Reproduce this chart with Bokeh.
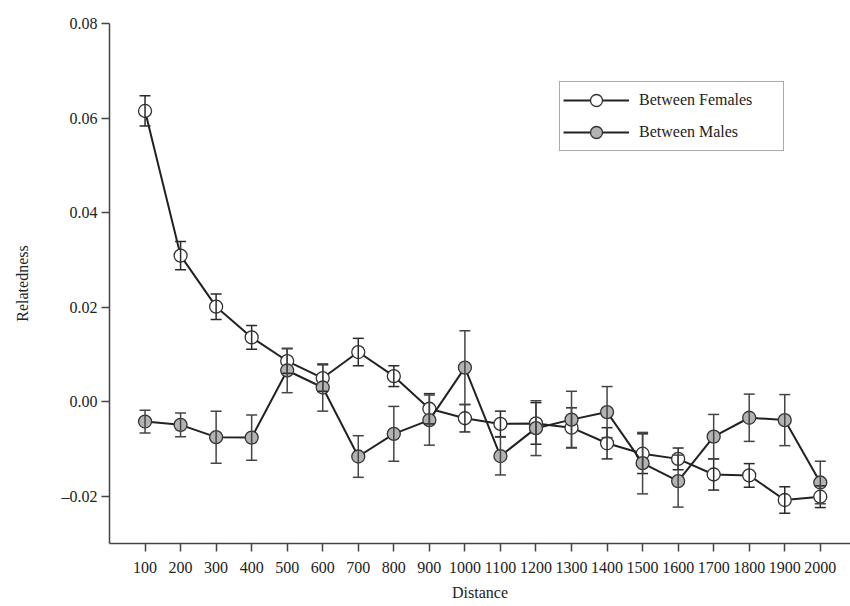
from bokeh.plotting import figure
from bokeh.models import (ColumnDataSource, Whisker, TeeHead, FixedTicker, Range1d,
                          Legend, LegendItem, CustomJSTickFormatter)
from bokeh.embed import file_html
from bokeh.resources import INLINE

distance = [100, 200, 300, 400, 500, 600, 700, 800, 900, 1000,
            1100, 1200, 1300, 1400, 1500, 1600, 1700, 1800, 1900, 2000]

females_mean = [0.0615, 0.0309, 0.0201, 0.0136, 0.0086, 0.0050, 0.0105, 0.0054, -0.0015, -0.0035,
                -0.0047, -0.0046, -0.0055, -0.0088, -0.0110, -0.0121, -0.0154, -0.0156, -0.0208, -0.0201]
females_se = [0.0032, 0.0030, 0.0027, 0.0025, 0.0026, 0.0028, 0.0029, 0.0022, 0.0032, 0.0029,
              0.0027, 0.0044, 0.0042, 0.0033, 0.0042, 0.0023, 0.0033, 0.0025, 0.0028, 0.0023]

males_mean = [-0.0042, -0.0049, -0.0075, -0.0076, 0.0066, 0.0030, -0.0116, -0.0068, -0.0039, 0.0072,
              -0.0115, -0.0056, -0.0038, -0.0022, -0.0130, -0.0168, -0.0074, -0.0034, -0.0039, -0.0171]
males_se = [0.0024, 0.0025, 0.0055, 0.0048, 0.0047, 0.0050, 0.0044, 0.0058, 0.0053, 0.0078,
            0.0040, 0.0058, 0.0060, 0.0054, 0.0065, 0.0055, 0.0047, 0.0050, 0.0054, 0.0045]

y_ticks = [-0.02, 0.0, 0.02, 0.04, 0.06, 0.08]

FONT = "Liberation Serif"
INK = "#222222"

p = figure(width=850, height=606, output_backend="svg", toolbar_location=None,
           x_range=Range1d(0, 2085), y_range=Range1d(-0.03, 0.08),
           min_border_left=109, min_border_right=0, min_border_top=23, min_border_bottom=63)
p.outline_line_color = None
p.xgrid.visible = False
p.ygrid.visible = False
p.background_fill_color = "white"
p.border_fill_color = "white"


def make_src(mean, se):
    return ColumnDataSource(dict(
        x=distance, y=mean,
        upper=[m + s for m, s in zip(mean, se)],
        lower=[m - s for m, s in zip(mean, se)]))


items = []
for label, mean, se, fill, ecol in [("Between Females", females_mean, females_se, "white", "#2a2a2a"),
                                    ("Between Males", males_mean, males_se, "#b3b3b3", "#444444")]:
    src = make_src(mean, se)
    w = Whisker(base="x", upper="upper", lower="lower", source=src,
                line_color=ecol, line_width=1.5, level="glyph",
                upper_head=TeeHead(size=11, line_color=ecol, line_width=1.5),
                lower_head=TeeHead(size=11, line_color=ecol, line_width=1.5))
    p.add_layout(w)
    ln = p.line("x", "y", source=src, line_color=INK, line_width=2)
    sc = p.scatter("x", "y", source=src, size=13, fill_color=fill,
                   line_color="#333333", line_width=1.3)
    items.append(LegendItem(label=label, renderers=[ln, sc]))

legend = Legend(items=items, location=(450, 392), padding=3, spacing=2,
                glyph_width=66, glyph_height=30, label_height=30, label_width=141,
                label_standoff=10, margin=0,
                border_line_color="#555555", border_line_width=1.5,
                label_text_font=FONT, label_text_font_size="16px",
                label_text_color=INK, background_fill_color="white")
p.add_layout(legend, "center")

# axes
for ax in (p.xaxis[0], p.yaxis[0]):
    ax.axis_line_color = "#444444"
    ax.axis_line_width = 1.5
    ax.major_tick_line_color = "#444444"
    ax.major_tick_line_width = 1.5
    ax.major_tick_out = 8
    ax.major_tick_in = 0
    ax.minor_tick_line_color = None
    ax.major_label_text_font = FONT
    ax.major_label_text_font_size = "16px"
    ax.major_label_text_color = INK
    ax.axis_label_text_font = FONT
    ax.axis_label_text_font_size = "16px"
    ax.axis_label_text_font_style = "normal"
    ax.axis_label_text_color = INK

p.xaxis.ticker = FixedTicker(ticks=distance)
p.xaxis.axis_label = "Distance"
p.xaxis.major_label_standoff = 10
p.xaxis.axis_label_standoff = 8

p.yaxis.ticker = FixedTicker(ticks=y_ticks)
p.yaxis.formatter = CustomJSTickFormatter(
    code='return (tick < -1e-9 ? "\\u2013" : "") + Math.abs(tick).toFixed(2);')
p.yaxis.axis_label = "Relatedness"
p.yaxis.major_label_standoff = 4
p.yaxis.axis_label_standoff = 28

open("out.html", "w").write(file_html(p, INLINE))
